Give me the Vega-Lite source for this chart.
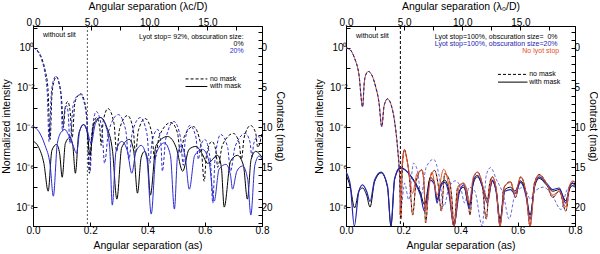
{
"$schema":"https://vega.github.io/schema/vega-lite/v6.json",
"padding":0,
"config":{"font":"Liberation Sans","view":{"stroke":"black","strokeWidth":1},
"axis":{"domainColor":"black","tickColor":"black","labelColor":"black","titleColor":"black","labelFontSize":10,"titleFontSize":10.5,"titleFontWeight":"normal","grid":false,"tickSize":-4,"labelPadding":3,"labelOverlap":false,"labelFlush":false},
"concat":{"spacing":28}},
"datasets":{
"L":[
{"s":"nm0","x":0,"m":0},{"s":"nm0","x":0.015,"m":0.3},{"s":"nm0","x":0.03,"m":1.25},{"s":"nm0","x":0.042,"m":2.75},{"s":"nm0","x":0.052,"m":5.0},{"s":"nm0","x":0.06,"m":11.5},{"s":"nm0","x":0.066,"m":6.0},{"s":"nm0","x":0.074,"m":4.13},{"s":"nm0","x":0.082,"m":3.63},{"s":"nm0","x":0.091,"m":4.38},{"s":"nm0","x":0.1,"m":6.5},{"s":"nm0","x":0.106,"m":10.0},{"s":"nm0","x":0.113,"m":7.38},{"s":"nm0","x":0.121,"m":6.75},{"s":"nm0","x":0.129,"m":7.75},{"s":"nm0","x":0.137,"m":11.25},{"s":"nm0","x":0.146,"m":7.0},{"s":"nm0","x":0.157,"m":6.0},{"s":"nm0","x":0.167,"m":5.75},{"s":"nm0","x":0.178,"m":6.5},{"s":"nm0","x":0.188,"m":8.75},{"s":"nm0","x":0.197,"m":15.75},{"s":"nm0","x":0.2045,"m":11.2},{"s":"nm0","x":0.222,"m":8.75},{"s":"nm0","x":0.233,"m":10.0},{"s":"nm0","x":0.238,"m":12.25},{"s":"nm0","x":0.245,"m":9.25},{"s":"nm0","x":0.262,"m":7.63},{"s":"nm0","x":0.283,"m":9.5},{"s":"nm0","x":0.292,"m":13.0},{"s":"nm0","x":0.303,"m":10.1},{"s":"nm0","x":0.33,"m":8.5},{"s":"nm0","x":0.35,"m":10.2},{"s":"nm0","x":0.358,"m":13.25},{"s":"nm0","x":0.368,"m":10.4},{"s":"nm0","x":0.392,"m":8.88},{"s":"nm0","x":0.415,"m":10.7},{"s":"nm0","x":0.425,"m":14.0},{"s":"nm0","x":0.442,"m":11.0},{"s":"nm0","x":0.482,"m":9.38},{"s":"nm0","x":0.505,"m":10.7},{"s":"nm0","x":0.515,"m":13.25},{"s":"nm0","x":0.529,"m":11.1},{"s":"nm0","x":0.56,"m":9.88},{"s":"nm0","x":0.587,"m":12.3},{"s":"nm0","x":0.598,"m":16.75},{"s":"nm0","x":0.606,"m":13.5},{"s":"nm0","x":0.625,"m":11.75},{"s":"nm0","x":0.639,"m":12.9},{"s":"nm0","x":0.645,"m":15.0},{"s":"nm0","x":0.662,"m":12.2},{"s":"nm0","x":0.7,"m":10.75},{"s":"nm0","x":0.72,"m":11.9},{"s":"nm0","x":0.728,"m":14.0},{"s":"nm0","x":0.738,"m":11.2},{"s":"nm0","x":0.76,"m":9.75},{"s":"nm0","x":0.778,"m":10.7},{"s":"nm0","x":0.785,"m":12.5},{"s":"nm0","x":0.8,"m":10.75},
{"s":"nm20","x":0,"m":0},{"s":"nm20","x":0.015,"m":0.38},{"s":"nm20","x":0.03,"m":1.5},{"s":"nm20","x":0.042,"m":3.25},{"s":"nm20","x":0.05,"m":5.75},{"s":"nm20","x":0.056,"m":11.75},{"s":"nm20","x":0.064,"m":5.75},{"s":"nm20","x":0.072,"m":4.0},{"s":"nm20","x":0.08,"m":3.55},{"s":"nm20","x":0.089,"m":4.25},{"s":"nm20","x":0.098,"m":6.25},{"s":"nm20","x":0.103,"m":10.5},{"s":"nm20","x":0.11,"m":8.0},{"s":"nm20","x":0.117,"m":7.25},{"s":"nm20","x":0.123,"m":8.25},{"s":"nm20","x":0.129,"m":12.0},{"s":"nm20","x":0.14,"m":7.25},{"s":"nm20","x":0.152,"m":6.13},{"s":"nm20","x":0.165,"m":5.88},{"s":"nm20","x":0.177,"m":6.63},{"s":"nm20","x":0.188,"m":9.0},{"s":"nm20","x":0.2,"m":15.5},{"s":"nm20","x":0.206,"m":10.6},{"s":"nm20","x":0.221,"m":8.0},{"s":"nm20","x":0.241,"m":10.3},{"s":"nm20","x":0.25,"m":14.5},{"s":"nm20","x":0.264,"m":10.5},{"s":"nm20","x":0.298,"m":8.38},{"s":"nm20","x":0.324,"m":10.35},{"s":"nm20","x":0.335,"m":14.0},{"s":"nm20","x":0.347,"m":10.6},{"s":"nm20","x":0.375,"m":8.75},{"s":"nm20","x":0.398,"m":10.8},{"s":"nm20","x":0.408,"m":14.5},{"s":"nm20","x":0.416,"m":11.7},{"s":"nm20","x":0.436,"m":10.25},{"s":"nm20","x":0.447,"m":12.1},{"s":"nm20","x":0.452,"m":15.5},{"s":"nm20","x":0.464,"m":11.4},{"s":"nm20","x":0.492,"m":9.25},{"s":"nm20","x":0.515,"m":11.2},{"s":"nm20","x":0.525,"m":14.75},{"s":"nm20","x":0.532,"m":11.5},{"s":"nm20","x":0.548,"m":9.75},{"s":"nm20","x":0.569,"m":11.2},{"s":"nm20","x":0.578,"m":14.0},{"s":"nm20","x":0.585,"m":12.4},{"s":"nm20","x":0.6,"m":11.5},{"s":"nm20","x":0.62,"m":14.3},{"s":"nm20","x":0.628,"m":19.5},{"s":"nm20","x":0.636,"m":13.9},{"s":"nm20","x":0.656,"m":10.88},{"s":"nm20","x":0.68,"m":12.5},{"s":"nm20","x":0.69,"m":15.5},{"s":"nm20","x":0.706,"m":12.4},{"s":"nm20","x":0.742,"m":10.75},{"s":"nm20","x":0.758,"m":11.8},{"s":"nm20","x":0.765,"m":13.75},{"s":"nm20","x":0.771,"m":12.05},{"s":"nm20","x":0.785,"m":11.13},{"s":"nm20","x":0.8,"m":11.5},
{"s":"wm0","x":0,"m":11.7},{"s":"wm0","x":0.02,"m":12.5},{"s":"wm0","x":0.038,"m":14.5},{"s":"wm0","x":0.053,"m":18.0},{"s":"wm0","x":0.066,"m":12.88},{"s":"wm0","x":0.082,"m":12.13},{"s":"wm0","x":0.093,"m":13.25},{"s":"wm0","x":0.102,"m":16.25},{"s":"wm0","x":0.113,"m":12.0},{"s":"wm0","x":0.129,"m":11.25},{"s":"wm0","x":0.139,"m":12.25},{"s":"wm0","x":0.148,"m":15.75},{"s":"wm0","x":0.16,"m":10.75},{"s":"wm0","x":0.178,"m":9.63},{"s":"wm0","x":0.19,"m":10.75},{"s":"wm0","x":0.199,"m":13.5},{"s":"wm0","x":0.212,"m":9.63},{"s":"wm0","x":0.235,"m":8.75},{"s":"wm0","x":0.258,"m":10.0},{"s":"wm0","x":0.278,"m":13.0},{"s":"wm0","x":0.293,"m":19.0},{"s":"wm0","x":0.31,"m":12.5},{"s":"wm0","x":0.337,"m":11.5},{"s":"wm0","x":0.352,"m":13.0},{"s":"wm0","x":0.365,"m":18.25},{"s":"wm0","x":0.378,"m":13.75},{"s":"wm0","x":0.39,"m":13.0},{"s":"wm0","x":0.4,"m":14.0},{"s":"wm0","x":0.41,"m":18.5},{"s":"wm0","x":0.43,"m":12.25},{"s":"wm0","x":0.47,"m":11.13},{"s":"wm0","x":0.5,"m":12.5},{"s":"wm0","x":0.523,"m":15.5},{"s":"wm0","x":0.545,"m":12.75},{"s":"wm0","x":0.569,"m":12.38},{"s":"wm0","x":0.59,"m":13.25},{"s":"wm0","x":0.61,"m":14.5},{"s":"wm0","x":0.645,"m":13.5},{"s":"wm0","x":0.658,"m":15.0},{"s":"wm0","x":0.668,"m":20.0},{"s":"wm0","x":0.69,"m":14.25},{"s":"wm0","x":0.714,"m":13.5},{"s":"wm0","x":0.735,"m":14.75},{"s":"wm0","x":0.749,"m":19.0},{"s":"wm0","x":0.762,"m":14.0},{"s":"wm0","x":0.778,"m":13.0},{"s":"wm0","x":0.8,"m":13.75},
{"s":"wm20","x":0,"m":9.83},{"s":"wm20","x":0.02,"m":10.5},{"s":"wm20","x":0.042,"m":12.25},{"s":"wm20","x":0.06,"m":14.75},{"s":"wm20","x":0.071,"m":18.63},{"s":"wm20","x":0.085,"m":12.0},{"s":"wm20","x":0.1,"m":10.5},{"s":"wm20","x":0.111,"m":10.25},{"s":"wm20","x":0.125,"m":11.0},{"s":"wm20","x":0.14,"m":12.25},{"s":"wm20","x":0.152,"m":13.25},{"s":"wm20","x":0.163,"m":10.5},{"s":"wm20","x":0.175,"m":9.63},{"s":"wm20","x":0.19,"m":10.5},{"s":"wm20","x":0.203,"m":12.0},{"s":"wm20","x":0.218,"m":9.5},{"s":"wm20","x":0.237,"m":8.75},{"s":"wm20","x":0.255,"m":9.88},{"s":"wm20","x":0.268,"m":12.5},{"s":"wm20","x":0.277,"m":19.75},{"s":"wm20","x":0.29,"m":13.0},{"s":"wm20","x":0.31,"m":11.75},{"s":"wm20","x":0.33,"m":13.0},{"s":"wm20","x":0.345,"m":15.75},{"s":"wm20","x":0.36,"m":13.0},{"s":"wm20","x":0.378,"m":12.25},{"s":"wm20","x":0.398,"m":14.0},{"s":"wm20","x":0.413,"m":20.88},{"s":"wm20","x":0.43,"m":13.25},{"s":"wm20","x":0.459,"m":11.93},{"s":"wm20","x":0.48,"m":13.5},{"s":"wm20","x":0.494,"m":20.25},{"s":"wm20","x":0.505,"m":13.5},{"s":"wm20","x":0.517,"m":12.33},{"s":"wm20","x":0.532,"m":13.75},{"s":"wm20","x":0.546,"m":17.75},{"s":"wm20","x":0.565,"m":13.5},{"s":"wm20","x":0.592,"m":12.75},{"s":"wm20","x":0.615,"m":14.25},{"s":"wm20","x":0.633,"m":19.25},{"s":"wm20","x":0.65,"m":15.25},{"s":"wm20","x":0.674,"m":14.63},{"s":"wm20","x":0.69,"m":16.0},{"s":"wm20","x":0.697,"m":17.75},{"s":"wm20","x":0.712,"m":15.5},{"s":"wm20","x":0.732,"m":14.83},{"s":"wm20","x":0.75,"m":16.5},{"s":"wm20","x":0.761,"m":21.0},{"s":"wm20","x":0.775,"m":14.75},{"s":"wm20","x":0.79,"m":13.58},{"s":"wm20","x":0.8,"m":14.0}
],
"R":[
{"s":"nmN","x":0,"m":0},{"s":"nmN","x":0.015,"m":0.25},{"s":"nmN","x":0.03,"m":1.3},{"s":"nmN","x":0.045,"m":3.3},{"s":"nmN","x":0.058,"m":7.4},{"s":"nmN","x":0.064,"m":4.3},{"s":"nmN","x":0.07,"m":3.3},{"s":"nmN","x":0.078,"m":2.96},{"s":"nmN","x":0.09,"m":3.4},{"s":"nmN","x":0.103,"m":4.8},{"s":"nmN","x":0.115,"m":6.8},{"s":"nmN","x":0.125,"m":9.9},{"s":"nmN","x":0.133,"m":7.3},{"s":"nmN","x":0.145,"m":6.4},{"s":"nmN","x":0.158,"m":7.2},{"s":"nmN","x":0.17,"m":9.3},{"s":"nmN","x":0.18,"m":12.5},{"s":"nmN","x":0.187,"m":16},{"s":"nmN","x":0.192,"m":21.5},{"s":"nmN","x":0.197,"m":15.0},{"s":"nmN","x":0.2035,"m":12.75},{"s":"nmN","x":0.212,"m":13.8},{"s":"nmN","x":0.222,"m":16.5},{"s":"nmN","x":0.233,"m":21.0},{"s":"nmN","x":0.245,"m":16.8},{"s":"nmN","x":0.265,"m":15.3},{"s":"nmN","x":0.272,"m":16.8},{"s":"nmN","x":0.278,"m":22.0},{"s":"nmN","x":0.292,"m":16.5},{"s":"nmN","x":0.31,"m":15.4},{"s":"nmN","x":0.322,"m":17.2},{"s":"nmN","x":0.333,"m":20.5},{"s":"nmN","x":0.345,"m":15.8},{"s":"nmN","x":0.36,"m":16.5},{"s":"nmN","x":0.37,"m":19},{"s":"nmN","x":0.377,"m":22.4},{"s":"nmN","x":0.39,"m":17.5},{"s":"nmN","x":0.41,"m":17.0},{"s":"nmN","x":0.425,"m":18.5},{"s":"nmN","x":0.433,"m":21},{"s":"nmN","x":0.445,"m":16.5},{"s":"nmN","x":0.459,"m":15.6},{"s":"nmN","x":0.475,"m":17.0},{"s":"nmN","x":0.49,"m":21.5},{"s":"nmN","x":0.5,"m":17.5},{"s":"nmN","x":0.511,"m":16.2},{"s":"nmN","x":0.525,"m":17.8},{"s":"nmN","x":0.538,"m":22.4},{"s":"nmN","x":0.552,"m":17.5},{"s":"nmN","x":0.575,"m":16.8},{"s":"nmN","x":0.592,"m":18.8},{"s":"nmN","x":0.61,"m":16.2},{"s":"nmN","x":0.63,"m":18.5},{"s":"nmN","x":0.643,"m":22.4},{"s":"nmN","x":0.658,"m":17.0},{"s":"nmN","x":0.675,"m":15.9},{"s":"nmN","x":0.7,"m":17.0},{"s":"nmN","x":0.722,"m":18.8},{"s":"nmN","x":0.745,"m":18.0},{"s":"nmN","x":0.768,"m":20.5},{"s":"nmN","x":0.782,"m":17.4},{"s":"nmN","x":0.795,"m":16.8},{"s":"nmN","x":0.8,"m":16.9},
{"s":"nm20","x":0,"m":0},{"s":"nm20","x":0.015,"m":0.25},{"s":"nm20","x":0.03,"m":1.3},{"s":"nm20","x":0.045,"m":3.3},{"s":"nm20","x":0.058,"m":7.4},{"s":"nm20","x":0.064,"m":4.3},{"s":"nm20","x":0.07,"m":3.3},{"s":"nm20","x":0.078,"m":2.96},{"s":"nm20","x":0.09,"m":3.4},{"s":"nm20","x":0.103,"m":4.8},{"s":"nm20","x":0.115,"m":6.8},{"s":"nm20","x":0.125,"m":9.9},{"s":"nm20","x":0.133,"m":7.3},{"s":"nm20","x":0.145,"m":6.4},{"s":"nm20","x":0.158,"m":7.2},{"s":"nm20","x":0.17,"m":9.3},{"s":"nm20","x":0.18,"m":12.5},{"s":"nm20","x":0.187,"m":16},{"s":"nm20","x":0.192,"m":20},{"s":"nm20","x":0.205,"m":17},{"s":"nm20","x":0.219,"m":19.1},{"s":"nm20","x":0.236,"m":14.5},{"s":"nm20","x":0.25,"m":15.5},{"s":"nm20","x":0.262,"m":18.5},{"s":"nm20","x":0.28,"m":15},{"s":"nm20","x":0.306,"m":14.0},{"s":"nm20","x":0.325,"m":16},{"s":"nm20","x":0.342,"m":19.9},{"s":"nm20","x":0.36,"m":17.5},{"s":"nm20","x":0.382,"m":16.7},{"s":"nm20","x":0.4,"m":17.5},{"s":"nm20","x":0.415,"m":19.5},{"s":"nm20","x":0.43,"m":17.5},{"s":"nm20","x":0.45,"m":18},{"s":"nm20","x":0.476,"m":22.4},{"s":"nm20","x":0.49,"m":16},{"s":"nm20","x":0.505,"m":15.04},{"s":"nm20","x":0.525,"m":16.5},{"s":"nm20","x":0.55,"m":18.5},{"s":"nm20","x":0.57,"m":21.5},{"s":"nm20","x":0.59,"m":18.5},{"s":"nm20","x":0.62,"m":17.5},{"s":"nm20","x":0.645,"m":19},{"s":"nm20","x":0.66,"m":18},{"s":"nm20","x":0.69,"m":17.5},{"s":"nm20","x":0.72,"m":18.5},{"s":"nm20","x":0.751,"m":20.3},{"s":"nm20","x":0.77,"m":18},{"s":"nm20","x":0.786,"m":17.3},{"s":"nm20","x":0.8,"m":17.5},
{"s":"wm0","x":0,"m":15.9},{"s":"wm0","x":0.015,"m":17.5},{"s":"wm0","x":0.03,"m":20.1},{"s":"wm0","x":0.045,"m":18.0},{"s":"wm0","x":0.058,"m":17.6},{"s":"wm0","x":0.072,"m":18.5},{"s":"wm0","x":0.084,"m":20.0},{"s":"wm0","x":0.1,"m":16.8},{"s":"wm0","x":0.123,"m":15.7},{"s":"wm0","x":0.145,"m":17.5},{"s":"wm0","x":0.157,"m":22.4},{"s":"wm0","x":0.17,"m":16.5},{"s":"wm0","x":0.19,"m":15.1},{"s":"wm0","x":0.215,"m":15.6},{"s":"wm0","x":0.24,"m":16.8},{"s":"wm0","x":0.26,"m":18.2},{"s":"wm0","x":0.274,"m":19.7},{"s":"wm0","x":0.295,"m":16.3},{"s":"wm0","x":0.308,"m":16.8},{"s":"wm0","x":0.318,"m":19.1},{"s":"wm0","x":0.33,"m":17.3},{"s":"wm0","x":0.345,"m":16.6},{"s":"wm0","x":0.36,"m":18.0},{"s":"wm0","x":0.377,"m":22.4},{"s":"wm0","x":0.395,"m":18.0},{"s":"wm0","x":0.412,"m":17.5},{"s":"wm0","x":0.43,"m":19.8},{"s":"wm0","x":0.445,"m":17.0},{"s":"wm0","x":0.459,"m":16.2},{"s":"wm0","x":0.478,"m":17.5},{"s":"wm0","x":0.494,"m":19.0},{"s":"wm0","x":0.511,"m":16.8},{"s":"wm0","x":0.525,"m":18.0},{"s":"wm0","x":0.538,"m":21.5},{"s":"wm0","x":0.555,"m":17.8},{"s":"wm0","x":0.575,"m":17.5},{"s":"wm0","x":0.59,"m":18.0},{"s":"wm0","x":0.61,"m":16.7},{"s":"wm0","x":0.63,"m":18.5},{"s":"wm0","x":0.643,"m":21.0},{"s":"wm0","x":0.66,"m":17.3},{"s":"wm0","x":0.675,"m":16.4},{"s":"wm0","x":0.7,"m":17.2},{"s":"wm0","x":0.722,"m":18.0},{"s":"wm0","x":0.745,"m":17.8},{"s":"wm0","x":0.768,"m":19.2},{"s":"wm0","x":0.78,"m":17.8},{"s":"wm0","x":0.792,"m":17.3},{"s":"wm0","x":0.8,"m":17.5},
{"s":"wm20","x":0,"m":15.6},{"s":"wm20","x":0.015,"m":17.2},{"s":"wm20","x":0.029,"m":22.4},{"s":"wm20","x":0.045,"m":18.0},{"s":"wm20","x":0.058,"m":17.2},{"s":"wm20","x":0.072,"m":18.0},{"s":"wm20","x":0.084,"m":19.3},{"s":"wm20","x":0.1,"m":16.6},{"s":"wm20","x":0.123,"m":15.6},{"s":"wm20","x":0.145,"m":17.4},{"s":"wm20","x":0.157,"m":22.4},{"s":"wm20","x":0.17,"m":16.4},{"s":"wm20","x":0.19,"m":15.0},{"s":"wm20","x":0.215,"m":15.6},{"s":"wm20","x":0.24,"m":16.9},{"s":"wm20","x":0.26,"m":18.5},{"s":"wm20","x":0.274,"m":20.5},{"s":"wm20","x":0.295,"m":16.6},{"s":"wm20","x":0.308,"m":17.1},{"s":"wm20","x":0.318,"m":19.5},{"s":"wm20","x":0.33,"m":17.5},{"s":"wm20","x":0.345,"m":16.9},{"s":"wm20","x":0.36,"m":18.4},{"s":"wm20","x":0.377,"m":22.4},{"s":"wm20","x":0.395,"m":18.3},{"s":"wm20","x":0.412,"m":17.2},{"s":"wm20","x":0.43,"m":20.2},{"s":"wm20","x":0.445,"m":16.8},{"s":"wm20","x":0.459,"m":16.0},{"s":"wm20","x":0.478,"m":17.6},{"s":"wm20","x":0.494,"m":19.5},{"s":"wm20","x":0.511,"m":16.6},{"s":"wm20","x":0.525,"m":18.2},{"s":"wm20","x":0.538,"m":22.0},{"s":"wm20","x":0.555,"m":18.0},{"s":"wm20","x":0.575,"m":17.8},{"s":"wm20","x":0.59,"m":18.3},{"s":"wm20","x":0.61,"m":16.9},{"s":"wm20","x":0.63,"m":18.8},{"s":"wm20","x":0.643,"m":21.5},{"s":"wm20","x":0.66,"m":17.1},{"s":"wm20","x":0.675,"m":16.2},{"s":"wm20","x":0.7,"m":17.0},{"s":"wm20","x":0.722,"m":17.8},{"s":"wm20","x":0.745,"m":17.6},{"s":"wm20","x":0.768,"m":19.5},{"s":"wm20","x":0.78,"m":17.6},{"s":"wm20","x":0.792,"m":17.0},{"s":"wm20","x":0.8,"m":17.3},
{"s":"wmN","x":0.188,"m":21.0},{"s":"wmN","x":0.196,"m":14.5},{"s":"wmN","x":0.2035,"m":12.9},{"s":"wmN","x":0.212,"m":13.9},{"s":"wmN","x":0.222,"m":16.0},{"s":"wmN","x":0.232,"m":18.3},{"s":"wmN","x":0.248,"m":15.8},{"s":"wmN","x":0.265,"m":15.4},{"s":"wmN","x":0.272,"m":16.8},{"s":"wmN","x":0.278,"m":20.5},{"s":"wmN","x":0.3,"m":15.6},{"s":"wmN","x":0.318,"m":18.5},{"s":"wmN","x":0.341,"m":15.25},{"s":"wmN","x":0.36,"m":17.5},{"s":"wmN","x":0.377,"m":22.4},{"s":"wmN","x":0.395,"m":17.5},{"s":"wmN","x":0.412,"m":17.0},{"s":"wmN","x":0.43,"m":19.5},{"s":"wmN","x":0.445,"m":16.2},{"s":"wmN","x":0.459,"m":15.6},{"s":"wmN","x":0.478,"m":17.3},{"s":"wmN","x":0.494,"m":19.5},{"s":"wmN","x":0.511,"m":16.2},{"s":"wmN","x":0.525,"m":17.8},{"s":"wmN","x":0.538,"m":22.4},{"s":"wmN","x":0.555,"m":17.4},{"s":"wmN","x":0.575,"m":16.9},{"s":"wmN","x":0.59,"m":18.4},{"s":"wmN","x":0.61,"m":16.2},{"s":"wmN","x":0.63,"m":18.5},{"s":"wmN","x":0.643,"m":22.4},{"s":"wmN","x":0.66,"m":17.0},{"s":"wmN","x":0.675,"m":16.0},{"s":"wmN","x":0.7,"m":17.0},{"s":"wmN","x":0.722,"m":18.5},{"s":"wmN","x":0.745,"m":18.0},{"s":"wmN","x":0.768,"m":20.0},{"s":"wmN","x":0.78,"m":17.4},{"s":"wmN","x":0.792,"m":16.7},{"s":"wmN","x":0.8,"m":16.9}
]},
"hconcat":[
{"width":229,"height":200,
"layer":[
{"data":{"name":"L"},
"encoding":{
"x":{"field":"x","type":"quantitative","scale":{"domain":[0,0.8],"nice":false,"zero":false},"axis":{"title":"Angular separation (as)","values":[0,0.2,0.4,0.6,0.8],"format":".1f","minExtent":12,"maxExtent":12,"titlePadding":2}},
"y":{"field":"m","type":"quantitative","scale":{"domain":[-2.75,22.375],"reverse":true,"nice":false,"zero":false},"axis":{"orient":"right","title":"Contrast (mag)","values":[-2,-1,0,1,2,3,4,5,6,7,8,9,10,11,12,13,14,15,16,17,18,19,20,21,22],"labelExpr":"datum.value % 5 === 0 ? '' + datum.value : ''","minExtent":11,"maxExtent":11,"titlePadding":1}}},
"layer":[
{"data":{"values":[{"x":0.19,"m":-2.75,"m2":22.375}]},"mark":{"type":"rule","color":"#555555","strokeDash":[2,2],"strokeWidth":1},"encoding":{"y2":{"field":"m2"}}},
{"transform":[{"filter":"datum.s==='nm0'"}],"mark":{"type":"line","color":"#000000","strokeDash":[3,2],"strokeWidth":1,"interpolate":"monotone","clip":true}},
{"transform":[{"filter":"datum.s==='nm20'"}],"mark":{"type":"line","color":"#2b2bd0","strokeDash":[3,2],"strokeWidth":1,"interpolate":"monotone","clip":true}},
{"transform":[{"filter":"datum.s==='wm0'"}],"mark":{"type":"line","color":"#000000","strokeWidth":1,"interpolate":"monotone","clip":true}},
{"transform":[{"filter":"datum.s==='wm20'"}],"mark":{"type":"line","color":"#2b2bd0","strokeWidth":1,"interpolate":"monotone","clip":true}},
{"data":{"values":[{"x":0.035,"m":-1.6,"t":"without slit"},{"x":0.618,"m":3.9,"t":"no mask"},{"x":0.618,"m":4.85,"t":"with mask"}]},"mark":{"type":"text","align":"left","baseline":"middle","fontSize":7,"color":"#000000"},"encoding":{"text":{"field":"t"}}},
{"data":{"values":[{"x":0.736,"m":-1.35,"t":"Lyot stop= 92%, obscuration size:"},{"x":0.736,"m":-0.45,"t":"0%"}]},"mark":{"type":"text","align":"right","baseline":"middle","fontSize":7,"color":"#000000"},"encoding":{"text":{"field":"t"}}},
{"data":{"values":[{"x":0.736,"m":0.45,"t":"20%"}]},"mark":{"type":"text","align":"right","baseline":"middle","fontSize":7,"color":"#2b2bd0"},"encoding":{"text":{"field":"t"}}},
{"data":{"values":[{"x":0.533,"x2":0.609,"m":3.9}]},"mark":{"type":"rule","color":"#000000","strokeDash":[3,2],"strokeWidth":1},"encoding":{"x2":{"field":"x2"}}},
{"data":{"values":[{"x":0.533,"x2":0.609,"m":4.85}]},"mark":{"type":"rule","color":"#000000","strokeWidth":1},"encoding":{"x2":{"field":"x2"}}}
]},
{"data":{"values":[{"ld":0}]},"mark":{"type":"point","opacity":0},
"encoding":{"x":{"field":"ld","type":"quantitative","scale":{"domain":[0,19.7],"nice":false,"zero":false},"axis":{"orient":"top","title":"Angular separation (λc/D)","values":[0,2.5,5,7.5,10,12.5,15,17.5],"labelExpr":"datum.value % 5 === 0 ? format(datum.value, '.1f') : ''","minExtent":13,"maxExtent":13,"titlePadding":2}}}},
{"data":{"values":[{"I":1}]},"mark":{"type":"point","opacity":0},
"encoding":{"y":{"field":"I","type":"quantitative","scale":{"type":"log","domain":[1.122e-9,12.59],"nice":false},"axis":{"orient":"left","title":"Normalized intensity","values":[10,1,0.1,0.01,0.001,0.0001,0.00001,0.000001,0.0000001,0.00000001],"labelExpr":"datum.value > 0.5 && datum.value < 2 ? '10⁰' : datum.value > 0.005 && datum.value < 0.02 ? '10⁻²' : datum.value > 0.00005 && datum.value < 0.0002 ? '10⁻⁴' : datum.value > 0.0000005 && datum.value < 0.000002 ? '10⁻⁶' : datum.value > 0.000000005 && datum.value < 0.00000002 ? '10⁻⁸' : ''","minExtent":20,"maxExtent":20,"titlePadding":2}}}}
],
"resolve":{"scale":{"x":"independent","y":"independent"}}},
{"width":229,"height":200,
"layer":[
{"data":{"name":"R"},
"encoding":{
"x":{"field":"x","type":"quantitative","scale":{"domain":[0,0.8],"nice":false,"zero":false},"axis":{"title":"Angular separation (as)","values":[0,0.2,0.4,0.6,0.8],"format":".1f","minExtent":12,"maxExtent":12,"titlePadding":2}},
"y":{"field":"m","type":"quantitative","scale":{"domain":[-2.75,22.375],"reverse":true,"nice":false,"zero":false},"axis":{"orient":"right","title":"Contrast (mag)","values":[-2,-1,0,1,2,3,4,5,6,7,8,9,10,11,12,13,14,15,16,17,18,19,20,21,22],"labelExpr":"datum.value % 5 === 0 ? '' + datum.value : ''","minExtent":11,"maxExtent":11,"titlePadding":1}}},
"layer":[
{"data":{"values":[{"x":0.19,"m":-2.75,"m2":22.375}]},"mark":{"type":"rule","color":"#000000","strokeDash":[3,2],"strokeWidth":1},"encoding":{"y2":{"field":"m2"}}},
{"transform":[{"filter":"datum.s==='nmN'"}],"mark":{"type":"line","color":"#000000","strokeDash":[3,2],"strokeWidth":1,"interpolate":"monotone","clip":true}},
{"transform":[{"filter":"datum.s==='nmN'"}],"mark":{"type":"line","color":"#e4502a","strokeDash":[3,2],"strokeDashOffset":2,"strokeWidth":1,"interpolate":"monotone","clip":true}},
{"transform":[{"filter":"datum.s==='nm20'"}],"mark":{"type":"line","color":"#2b2bd0","strokeDash":[3,2],"strokeWidth":1,"strokeOpacity":0.7,"interpolate":"monotone","clip":true}},
{"transform":[{"filter":"datum.s==='wm0'"}],"mark":{"type":"line","color":"#000000","strokeWidth":1,"interpolate":"monotone","clip":true}},
{"transform":[{"filter":"datum.s==='wm20'"}],"mark":{"type":"line","color":"#2424b0","strokeWidth":1.2,"interpolate":"monotone","clip":true}},
{"transform":[{"filter":"datum.s==='wmN'"}],"mark":{"type":"line","color":"#e4502a","strokeWidth":1,"interpolate":"monotone","clip":true}},
{"data":{"values":[{"x":0.035,"m":-1.54,"t":"without slit"},{"x":0.64,"m":3.33,"t":"no mask"},{"x":0.64,"m":4.3,"t":"with mask"}]},"mark":{"type":"text","align":"left","baseline":"middle","fontSize":7,"color":"#000000"},"encoding":{"text":{"field":"t"}}},
{"data":{"values":[{"x":0.739,"m":-1.35,"t":"Lyot stop=100%, obscuration size=\u20070%"}]},"mark":{"type":"text","align":"right","baseline":"middle","fontSize":7,"color":"#000000"},"encoding":{"text":{"field":"t"}}},
{"data":{"values":[{"x":0.739,"m":-0.45,"t":"Lyot stop=100%, obscuration size=20%"}]},"mark":{"type":"text","align":"right","baseline":"middle","fontSize":7,"color":"#2424b0"},"encoding":{"text":{"field":"t"}}},
{"data":{"values":[{"x":0.745,"m":0.45,"t":"No lyot stop"}]},"mark":{"type":"text","align":"right","baseline":"middle","fontSize":7,"color":"#e4502a"},"encoding":{"text":{"field":"t"}}},
{"data":{"values":[{"x":0.531,"x2":0.634,"m":3.33}]},"mark":{"type":"rule","color":"#000000","strokeDash":[3,2],"strokeWidth":1},"encoding":{"x2":{"field":"x2"}}},
{"data":{"values":[{"x":0.531,"x2":0.634,"m":4.3}]},"mark":{"type":"rule","color":"#000000","strokeWidth":1},"encoding":{"x2":{"field":"x2"}}}
]},
{"data":{"values":[{"ld":0}]},"mark":{"type":"point","opacity":0},
"encoding":{"x":{"field":"ld","type":"quantitative","scale":{"domain":[0,19.7],"nice":false,"zero":false},"axis":{"orient":"top","title":"Angular separation (λ₀/D)","values":[0,2.5,5,7.5,10,12.5,15,17.5],"labelExpr":"datum.value % 5 === 0 ? format(datum.value, '.1f') : ''","minExtent":13,"maxExtent":13,"titlePadding":2}}}},
{"data":{"values":[{"I":1}]},"mark":{"type":"point","opacity":0},
"encoding":{"y":{"field":"I","type":"quantitative","scale":{"type":"log","domain":[1.122e-9,12.59],"nice":false},"axis":{"orient":"left","title":"Normalized intensity","values":[10,1,0.1,0.01,0.001,0.0001,0.00001,0.000001,0.0000001,0.00000001],"labelExpr":"datum.value > 0.5 && datum.value < 2 ? '10⁰' : datum.value > 0.005 && datum.value < 0.02 ? '10⁻²' : datum.value > 0.00005 && datum.value < 0.0002 ? '10⁻⁴' : datum.value > 0.0000005 && datum.value < 0.000002 ? '10⁻⁶' : datum.value > 0.000000005 && datum.value < 0.00000002 ? '10⁻⁸' : ''","minExtent":20,"maxExtent":20,"titlePadding":2}}}}
],
"resolve":{"scale":{"x":"independent","y":"independent"}}}
]
}
